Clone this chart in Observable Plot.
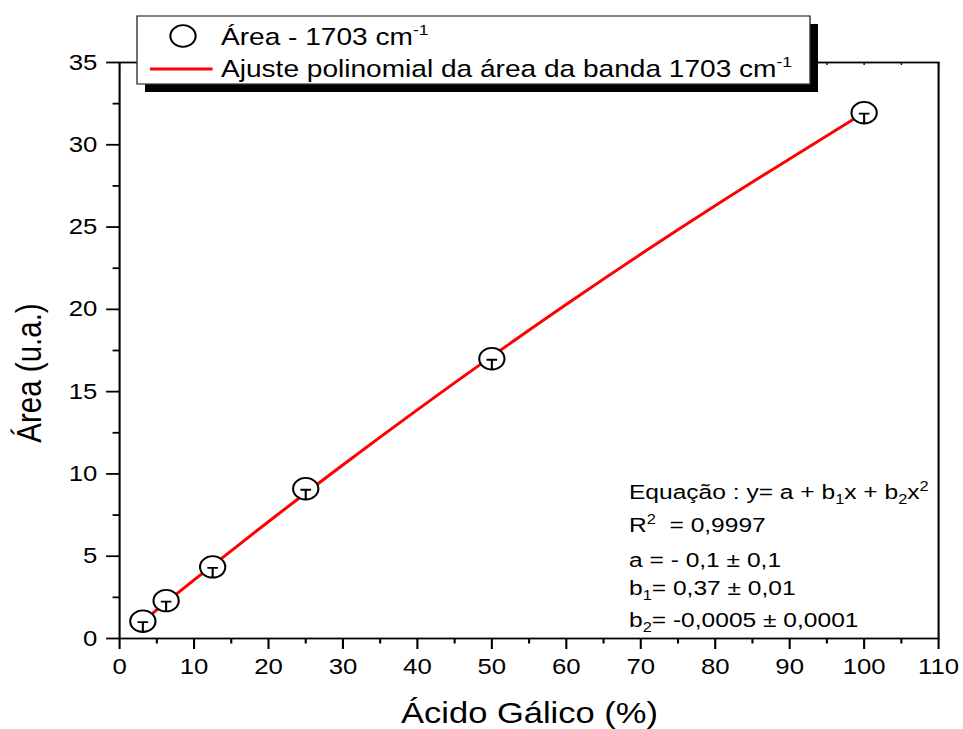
<!DOCTYPE html>
<html>
<head>
<meta charset="utf-8">
<script src="https://cdn.jsdelivr.net/npm/d3@7"></script>
<script src="https://cdn.jsdelivr.net/npm/@observablehq/plot@0.6"></script>
<style>
  html, body { margin: 0; padding: 0; background: white; }
  #chart svg { display: block; }
</style>
</head>
<body>
<div id="chart"></div>
<script>
// ---- Data ----
const acidoGalico = [3.125, 6.25, 12.5, 25, 50, 100];          // % ácido gálico
const area1703   = [1.05, 2.3, 4.35, 9.1, 17.0, 31.95];         // área (u.a.)
const ajusteX    = [3.125, 10, 20, 30, 40, 50, 60, 70, 80, 90, 100];
const ajusteY    = [1.05, 3.55, 7.1, 10.55, 13.9, 17.15, 20.3, 23.35, 26.3, 29.15, 31.95];
const xTicks     = [0, 10, 20, 30, 40, 50, 60, 70, 80, 90, 100, 110];
const xMinor     = [5, 15, 25, 35, 45, 55, 65, 75, 85, 95, 105];
const yTicks     = [0, 5, 10, 15, 20, 25, 30, 35];
const yMinor     = [2.5, 7.5, 12.5, 17.5, 22.5, 27.5, 32.5];
const legendLabels = ["Área - 1703 cm", "Ajuste polinomial da área da banda 1703 cm"];
const equationLines = [
  [["Equação : y= a + b"], ["1", "sub"], ["x + b"], ["2", "sub"], ["x"], ["2", "sup"]],
  [["R"], ["2", "sup"], ["  = 0,9997"]],
  [["a = - 0,1 ± 0,1"]],
  [["b"], ["1", "sub"], ["= 0,37 ± 0,01"]],
  [["b"], ["2", "sub"], ["= -0,0005 ± 0,0001"]]
];
const xTitle = "Ácido Gálico (%)";
const yTitle = "Área (u.a.)";

const amostras = acidoGalico.map((x, i) => ({x, y: area1703[i]}));
const ajuste = ajusteX.map((x, i) => ({x, y: ajusteY[i]}));

// The reference is horizontally stretched; draw in a narrower space and stretch.
const S = 1.17;
const H = 729;
const W = 963 / S;
const mL = 119 / S, mR = 25 / S, mT = 62, mB = 91;
const innerH = H - mT - mB;

// open circle with a small "T" error-bar glyph inside
const symT = {
  draw(ctx, size) {
    const r = Math.sqrt(size / Math.PI);
    ctx.moveTo(r, 0);
    ctx.arc(0, 0, r, 0, 2 * Math.PI);
    ctx.moveTo(-0.42 * r, 1);
    ctx.lineTo(0.42 * r, 1);
    ctx.moveTo(0, 1);
    ctx.lineTo(0, r);
  }
};

const chart = Plot.plot({
  width: W,
  height: H,
  marginLeft: mL,
  marginRight: mR,
  marginTop: mT,
  marginBottom: mB,
  x: {domain: [0, 110]},
  y: {domain: [0, 35]},
  style: {fontFamily: "'Liberation Sans', Arial, sans-serif", fontSize: "22px", color: "black", background: "white"},
  marks: [
    Plot.frame({stroke: "black", strokeWidth: 1.8}),
    Plot.ruleX(xTicks.concat(xMinor), {x: d => d, stroke: "black", strokeWidth: 1.2, insetBottom: innerH - 3}),
    Plot.axisX({ticks: xTicks, tickSize: 11, tickPadding: 9, label: null, strokeWidth: 1.8, fontSize: 22, tickFormat: d => String(d)}),
    Plot.axisX({ticks: xMinor, tickSize: 5.5, text: null, label: null, strokeWidth: 1.8}),
    Plot.axisY({ticks: yTicks, tickSize: 11, tickPadding: 8, label: null, strokeWidth: 1.8, fontSize: 22, tickFormat: d => String(d)}),
    Plot.axisY({ticks: yMinor, tickSize: 5.5, text: null, label: null, strokeWidth: 1.8}),
    Plot.line(ajuste, {x: "x", y: "y", stroke: "#ff0000", strokeWidth: 2.8, curve: "natural"}),
    Plot.dot(amostras, {x: "x", y: "y", r: 10.8, symbol: symT, stroke: "black", fill: "white", strokeWidth: 1.8})
  ]
});

chart.setAttribute("width", 963);
chart.setAttribute("height", H);
chart.setAttribute("viewBox", `0 0 ${W} ${H}`);
chart.setAttribute("preserveAspectRatio", "none");
chart.style.maxWidth = "none";
chart.style.height = H + "px";
chart.style.width = "963px";

const svg = d3.select(chart);
const font = "'Liberation Sans', Arial, sans-serif";

// axis titles
svg.append("text")
  .attr("x", 529.5 / S).attr("y", 723)
  .attr("text-anchor", "middle")
  .attr("font-family", font).attr("font-size", 29.5).attr("fill", "black")
  .text(xTitle);
svg.append("text")
  .attr("transform", `translate(${29 / S},373) rotate(-90)`)
  .attr("dy", "0.36em")
  .attr("text-anchor", "middle")
  .attr("font-family", font).attr("font-size", 29.5).attr("fill", "black")
  .text(yTitle);

// legend
const lg = svg.append("g");
lg.append("rect").attr("x", 145 / S).attr("y", 24).attr("width", (818 - 145) / S).attr("height", 68).attr("fill", "black");
lg.append("rect").attr("x", 137 / S).attr("y", 16).attr("width", (810 - 137) / S).attr("height", 68)
  .attr("fill", "white").attr("stroke", "#333").attr("stroke-width", 1.2);
lg.append("circle").attr("cx", 183 / S).attr("cy", 36).attr("r", 10.8)
  .attr("fill", "white").attr("stroke", "black").attr("stroke-width", 1.8);
lg.append("line").attr("x1", 150 / S).attr("x2", 212.6 / S).attr("y1", 69).attr("y2", 69)
  .attr("stroke", "#ff0000").attr("stroke-width", 2.8);
[45, 77].forEach((by, i) => {
  const t = lg.append("text").attr("x", 221 / S).attr("y", by)
    .attr("text-anchor", "start")
    .attr("font-family", font).attr("font-size", 24).attr("fill", "black");
  t.append("tspan").text(legendLabels[i]);
  t.append("tspan").attr("font-size", 15).attr("dy", -10).text("-1");
});

// equation annotation
const baselines = [499, 532, 567, 595, 627];
equationLines.forEach((segs, i) => {
  const t = svg.append("text").attr("x", 629 / S).attr("y", baselines[i])
    .attr("text-anchor", "start").attr("xml:space", "preserve").style("white-space", "pre")
    .attr("font-family", font).attr("font-size", 21).attr("fill", "black");
  let shift = 0;
  segs.forEach(([txt, kind]) => {
    let target = 0, fs = 21;
    if (kind === "sub") { target = 5; fs = 14; }
    if (kind === "sup") { target = -8; fs = 14; }
    t.append("tspan").attr("dy", target - shift).attr("font-size", fs).text(txt);
    shift = target;
  });
});

document.getElementById("chart").appendChild(chart);
</script>
</body>
</html>
